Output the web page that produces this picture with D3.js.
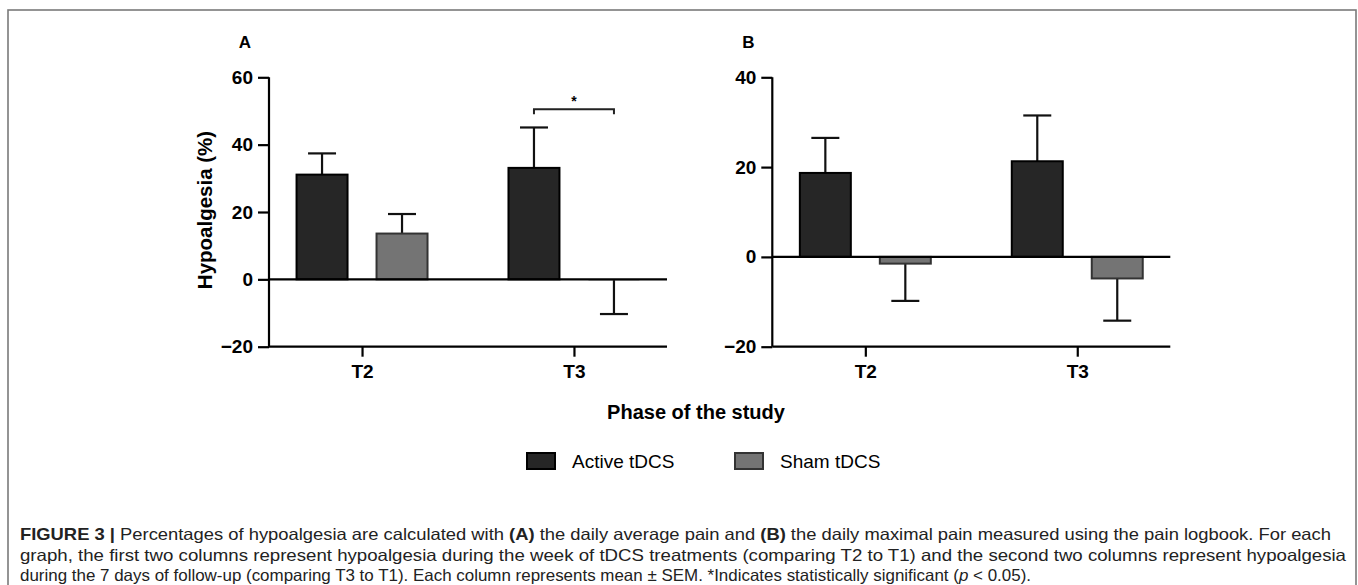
<!DOCTYPE html>
<html>
<head>
<meta charset="utf-8">
<script src="https://cdn.jsdelivr.net/npm/d3@7"></script>
<style>
html,body{margin:0;padding:0;background:#fff;}
svg{display:block;font-family:"Liberation Sans",Arial,Helvetica,sans-serif;}
</style>
</head>
<body>
<svg id="chart" width="1358" height="585"></svg>
<script>
// ---- data ----
const categories = ["T2", "T3"];
const series = ["Active tDCS", "Sham tDCS"];
// Panel A: daily average pain
const activeA = [31.1, 33.1];
const activeA_sem = [6.3, 12.0];
const shamA = [13.6, -0.3];
const shamA_sem = [5.8, 10.0];
// Panel B: daily maximal pain
const activeB = [18.7, 21.3];
const activeB_sem = [7.8, 10.2];
const shamB = [-1.5, -4.8];
const shamB_sem = [8.3, 9.4];
const ticksA = [-20, 0, 20, 40, 60];
const ticksB = [-20, 0, 20, 40];
const panelLabels = ["A", "B"];
const yTitle = "Hypoalgesia (%)";
const xTitle = "Phase of the study";

const colors = {"Active tDCS": "#262626", "Sham tDCS": "#747474"};
const strokes = {"Active tDCS": "#000", "Sham tDCS": "#333"};

const svg = d3.select("#chart");

// figure frame
svg.append("rect").attr("x", 8).attr("y", 10).attr("width", 1348).attr("height", 600)
  .attr("fill", "none").attr("stroke", "#7a7a7a").attr("stroke-width", 1.6);

const plotTop = 77.3, plotBottom = 346.7;

function drawPanel(x0, domain, ticks, active, activeSem, sham, shamSem, label, sig) {
  const g = svg.append("g");
  const x = d3.scalePoint().domain(categories).range([x0, x0 + 398]).padding(0.439);
  const step = x.step();
  const x1 = d3.scaleBand().domain(series).range([-0.309 * step, 0.309 * step]).paddingInner(0.3625);
  const y = d3.scaleLinear().domain(domain).range([plotBottom, plotTop]);

  const rows = [];
  categories.forEach((c, i) => {
    rows.push({cat: c, s: series[0], v: active[i], e: activeSem[i]});
    rows.push({cat: c, s: series[1], v: sham[i], e: shamSem[i]});
  });

  // error bars (drawn first so bars cover the part inside)
  const eb = g.append("g").attr("stroke", "#111").attr("stroke-width", 2.2).attr("fill", "none");
  rows.forEach(d => {
    const cx = x(d.cat) + x1(d.s) + x1.bandwidth() / 2;
    const end = d.v >= 0 ? d.v + d.e : d.v - d.e;
    eb.append("line").attr("x1", cx).attr("x2", cx).attr("y1", y(0)).attr("y2", y(end));
    eb.append("line").attr("x1", cx - 14).attr("x2", cx + 14).attr("y1", y(end)).attr("y2", y(end));
  });

  // bars
  g.append("g").selectAll("rect").data(rows).join("rect")
    .attr("x", d => x(d.cat) + x1(d.s))
    .attr("width", x1.bandwidth())
    .attr("y", d => y(Math.max(0, d.v)))
    .attr("height", d => Math.abs(y(d.v) - y(0)))
    .attr("fill", d => colors[d.s])
    .attr("stroke", d => Math.abs(y(d.v) - y(0)) < 2 ? "none" : strokes[d.s])
    .attr("stroke-width", 2);

  // zero line
  g.append("line").attr("x1", x0).attr("x2", x0 + 398).attr("y1", y(0)).attr("y2", y(0))
    .attr("stroke", "#000").attr("stroke-width", 2.2);

  // y axis
  const ya = g.append("g").attr("transform", `translate(${x0},0)`)
    .call(d3.axisLeft(y).tickValues(ticks).tickSize(11).tickPadding(5).tickFormat(d3.format("d")));
  ya.select(".domain").attr("stroke", "#000").attr("stroke-width", 2.2).attr("d", `M-0,${plotTop}V${plotBottom}`);
  ya.selectAll(".tick line").attr("stroke", "#000").attr("stroke-width", 2.2);
  ya.selectAll(".tick text").attr("font-size", 19).attr("font-weight", "bold").attr("fill", "#000")
    .attr("font-family", "Liberation Sans, Arial, sans-serif");

  // x axis
  const xa = g.append("g").attr("transform", `translate(0,${plotBottom})`)
    .call(d3.axisBottom(x).tickSize(10).tickPadding(8));
  xa.select(".domain").attr("stroke", "#000").attr("stroke-width", 2.2).attr("d", `M${x0},0H${x0 + 398}`);
  xa.selectAll(".tick line").attr("stroke", "#000").attr("stroke-width", 2.2);
  xa.selectAll(".tick text").attr("font-size", 19).attr("font-weight", "bold").attr("fill", "#000")
    .attr("font-family", "Liberation Sans, Arial, sans-serif");

  // panel label
  g.append("text").attr("x", x0 - 24).attr("y", 48).attr("text-anchor", "middle")
    .attr("font-size", 17).attr("font-weight", "bold").text(label);

  if (sig) {
    const xa1 = x(sig.cat) + x1(series[0]) + x1.bandwidth() / 2;
    const xb1 = x(sig.cat) + x1(series[1]) + x1.bandwidth() / 2;
    const yb = y(sig.level);
    g.append("path").attr("d", `M${xa1},${yb + 5}V${yb}H${xb1}V${yb + 5}`)
      .attr("fill", "none").attr("stroke", "#222").attr("stroke-width", 2);
    g.append("text").attr("x", (xa1 + xb1) / 2).attr("y", yb - 3).attr("text-anchor", "middle")
      .attr("font-size", 14).attr("font-weight", "bold").text(sig.mark);
  }
  return {x, y};
}

drawPanel(269, [-20, 60], ticksA, activeA, activeA_sem, shamA, shamA_sem, panelLabels[0], {cat: "T3", level: 50.5, mark: "*"});
drawPanel(772.3, [-20, 40], ticksB, activeB, activeB_sem, shamB, shamB_sem, panelLabels[1], null);

// y title
svg.append("text").attr("transform", "translate(212,210) rotate(-90)").attr("text-anchor", "middle")
  .attr("font-size", 20.5).attr("font-weight", "bold").text(yTitle);

// x title
svg.append("text").attr("x", 696).attr("y", 419).attr("text-anchor", "middle")
  .attr("font-size", 20).attr("font-weight", "bold").text(xTitle);

// legend
const legX = [527, 735];
const leg = svg.append("g").selectAll("g").data(series).join("g")
  .attr("transform", (d, i) => `translate(${legX[i]},453)`);
leg.append("rect").attr("width", 28).attr("height", 16)
  .attr("fill", d => colors[d]).attr("stroke", d => strokes[d]).attr("stroke-width", 2);
leg.append("text").attr("x", 45).attr("y", 15).attr("font-size", 19).text(d => d);

// caption
const cap = svg.append("g").attr("font-size", 16.5).attr("fill", "#222");
const l1 = cap.append("text").attr("x", 20).attr("y", 540).attr("textLength", 1311).attr("lengthAdjust", "spacingAndGlyphs");
l1.append("tspan").attr("font-weight", "bold").text("FIGURE 3 | ");
l1.append("tspan").text("Percentages of hypoalgesia are calculated with ");
l1.append("tspan").attr("font-weight", "bold").text("(A)");
l1.append("tspan").text(" the daily average pain and ");
l1.append("tspan").attr("font-weight", "bold").text("(B)");
l1.append("tspan").text(" the daily maximal pain measured using the pain logbook. For each");
cap.append("text").attr("x", 20).attr("y", 561).attr("textLength", 1326).attr("lengthAdjust", "spacingAndGlyphs")
  .text("graph, the first two columns represent hypoalgesia during the week of tDCS treatments (comparing T2 to T1) and the second two columns represent hypoalgesia");
const l3 = cap.append("text").attr("x", 20).attr("y", 581).attr("textLength", 1011).attr("lengthAdjust", "spacingAndGlyphs");
l3.append("tspan").text("during the 7 days of follow-up (comparing T3 to T1). Each column represents mean \u00B1 SEM. *Indicates statistically significant (");
l3.append("tspan").attr("font-style", "italic").text("p");
l3.append("tspan").text(" < 0.05).");
</script>
</body>
</html>
